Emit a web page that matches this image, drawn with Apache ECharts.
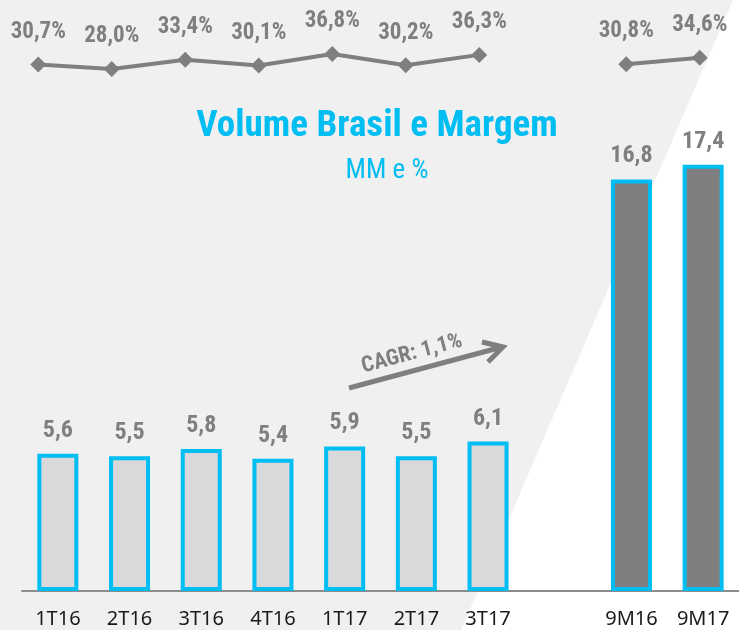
<!DOCTYPE html>
<html>
<head>
<meta charset="utf-8" />
<script src="https://cdn.jsdelivr.net/npm/echarts@6/dist/echarts.min.js"></script>
<title>Volume Brasil e Margem</title>
<style>
  html, body { margin: 0; padding: 0; background: #fff; }
  #main { width: 739px; height: 630px; }
</style>
</head>
<body>
<div id="main"></div>
<script>
// dados
var periodos = ['1T16', '2T16', '3T16', '4T16', '1T17', '2T17', '3T17', '', '9M16', '9M17'];
var volume = [5.6, 5.5, 5.8, 5.4, 5.9, 5.5, 6.1, null, 16.8, 17.4];
var margem = [30.7, 28.0, 33.4, 30.1, 36.8, 30.2, 36.3, null, 30.8, 34.6];
var acumulado = ['9M16', '9M17'];

var cinza = '#7f7f7f';
var azul = '#00bdf2';
var fonteCond = "'Roboto Condensed', 'Liberation Sans Narrow', Roboto, sans-serif";

function virgula(v, casas) {
    return v.toFixed(casas).replace('.', ',');
}

var barras = [];
for (var i = 0; i < periodos.length; i++) {
    var escura = acumulado.indexOf(periodos[i]) >= 0;
    barras.push({
        value: volume[i],
        itemStyle: { color: escura ? '#7f7f7f' : '#d9d9d9' }
    });
}

var myChart = echarts.init(document.getElementById('main'));
var option = {
    backgroundColor: '#ffffff',
    animation: false,
    title: [
        {
            text: 'Volume Brasil e Margem',
            left: 372, top: 103, textAlign: 'center',
            textStyle: { color: azul, fontSize: 37, fontWeight: 'bold', fontFamily: fonteCond }
        },
        {
            text: 'MM e %',
            left: 382, top: 153, textAlign: 'center',
            textStyle: { color: azul, fontSize: 27, fontWeight: 'normal', fontFamily: fonteCond }
        }
    ],
    graphic: [
        {   // fundo cinza inclinado
            type: 'polygon', z: -10, silent: true,
            shape: { points: [[0, 0], [733, 0], [461, 630], [0, 630]] },
            style: { fill: '#f0f0f0' }
        },
        {   // seta CAGR
            type: 'line', z: 10,
            shape: { x1: 349, y1: 388, x2: 502, y2: 347 },
            style: { stroke: cinza, lineWidth: 5 }
        },
        {
            type: 'polyline', z: 10,
            shape: { points: [[482, 342], [503, 347], [488, 362]] },
            style: { stroke: cinza, lineWidth: 5, fill: null }
        },
        {
            type: 'text', z: 10,
            x: 412, y: 354, rotation: 0.26,
            style: {
                text: 'CAGR: 1,1%', fill: cinza, fontSize: 22, fontWeight: 'bold',
                fontFamily: fonteCond, align: 'center', verticalAlign: 'middle'
            }
        }
    ],
    grid: [
        { left: 22, width: 720, top: 101, bottom: 39 },
        { left: 1.5, width: 735, top: 48.6, height: 68 }
    ],
    xAxis: [
        {
            type: 'category', gridIndex: 0, data: periodos,
            axisLine: { lineStyle: { color: '#8c8c8c', width: 2 } },
            axisTick: { show: false },
            axisLabel: { color: '#1a1a1a', fontSize: 20, fontFamily: "'Noto Sans', sans-serif", margin: 18 }
        },
        {
            type: 'category', gridIndex: 1, data: periodos, show: false
        }
    ],
    yAxis: [
        { type: 'value', gridIndex: 0, min: 0, max: 20, show: false },
        { type: 'value', gridIndex: 1, min: 0, max: 40, show: false }
    ],
    series: [
        {
            name: 'Volume', type: 'bar', xAxisIndex: 0, yAxisIndex: 0,
            barWidth: 41,
            data: barras,
            itemStyle: { borderColor: azul, borderWidth: 4 },
            label: {
                show: true, position: 'top', distance: 11,
                color: cinza, fontSize: 24, fontWeight: 'bold', fontFamily: fonteCond,
                formatter: function (p) { return virgula(p.value, 1); }
            }
        },
        {
            name: 'Margem', type: 'line', xAxisIndex: 1, yAxisIndex: 1,
            data: margem,
            connectNulls: false,
            symbol: 'diamond', symbolSize: 16,
            lineStyle: { color: cinza, width: 4 },
            itemStyle: { color: cinza },
            label: {
                show: true, position: 'top', distance: 13,
                color: cinza, fontSize: 23, fontWeight: 'bold', fontFamily: fonteCond,
                formatter: function (p) { return virgula(p.value, 1) + '%'; }
            }
        }
    ]
};
myChart.setOption(option);
</script>
</body>
</html>
